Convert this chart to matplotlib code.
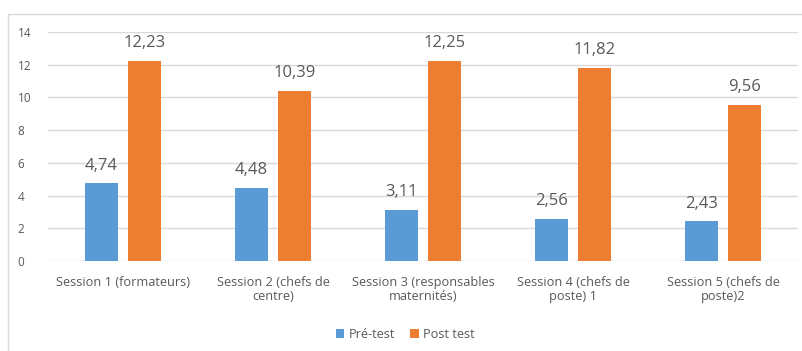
import numpy as np
import matplotlib.pyplot as plt
from matplotlib.patches import Rectangle

# Scores moyens par session
sessions = ["Session 1 (formateurs)", "Session 2 (chefs de\ncentre)",
            "Session 3 (responsables\nmaternités)", "Session 4 (chefs de\nposte) 1",
            "Session 5 (chefs de\nposte)2"]
pre_test = [4.74, 4.48, 3.11, 2.56, 2.43]
post_test = [12.23, 10.39, 12.25, 11.82, 9.56]

bleu = "#5B9BD5"
orange = "#ED7D31"
gris = "#595959"

plt.rcParams['font.family'] = ['Open Sans', 'DejaVu Sans']

fig = plt.figure(figsize=(8.03, 3.51), dpi=100)
# cadre du graphique
fig.patches.append(Rectangle((8 / 803, -0.1), 1.2, 1 - 14 / 351 + 0.1, transform=fig.transFigure,
                             fill=False, edgecolor="#D9D9D9", linewidth=1))
ax = fig.add_axes([48 / 803, 1 - 261 / 351, 750 / 803, 229 / 351])

x = np.arange(len(sessions))
w = 0.22
b1 = ax.bar(x - w / 2 - 0.033, pre_test, w, color=bleu, label="Pré-test")
b2 = ax.bar(x + w / 2 + 0.033, post_test, w, color=orange, label="Post test")

for bars, vals in ((b1, pre_test), (b2, post_test)):
    for r, v in zip(bars, vals):
        ax.annotate(f"{v:.2f}".replace(".", ","), (r.get_x() + r.get_width() / 2, v),
                    xytext=(0, 7), textcoords="offset points", ha="center", va="bottom",
                    fontsize=12, color=gris)

ax.set_xlim(-0.5, len(sessions) - 0.5)
ax.set_ylim(0, 14)
ax.set_yticks(range(0, 15, 2))
ax.set_xticks(x)
ax.set_xticklabels(sessions, fontsize=9.2, color=gris, linespacing=1.1)
ax.tick_params(axis="y", labelsize=8.5, labelcolor=gris, length=0, pad=22)
ax.tick_params(axis="x", length=0, pad=11)
for lab in ax.get_yticklabels():
    lab.set_horizontalalignment("left")
ax.grid(axis="y", color="#D9D9D9", linewidth=1)
ax.set_axisbelow(True)
for s in ax.spines.values():
    s.set_visible(False)

fig.legend(handles=[b1, b2], loc="center", bbox_to_anchor=(405 / 803, 1 - 334 / 351), ncol=2,
           frameon=False, fontsize=9.2, labelcolor=gris, handlelength=0.7, handleheight=0.7,
           handletextpad=0.3, columnspacing=1.2)

fig.savefig("out.png", dpi=100)
